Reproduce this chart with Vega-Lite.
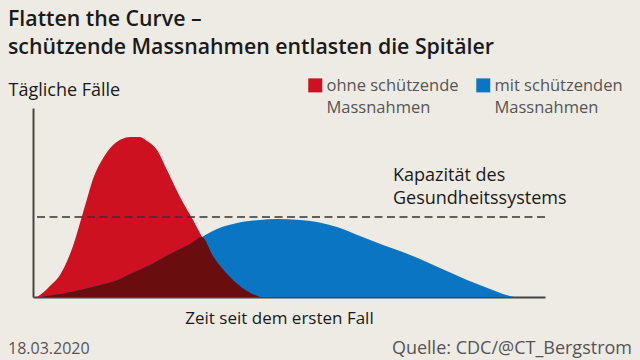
{
  "$schema": "https://vega.github.io/schema/vega-lite/v6.json",
  "width": 512,
  "height": 189,
  "autosize": "none",
  "padding": {"left": 33, "top": 108, "right": 95, "bottom": 63},
  "background": "#eeebe5",
  "config": {"view": {"stroke": null}, "font": "Open Sans"},
  "title": {
    "text": ["Flatten the Curve –", "schützende Massnahmen entlasten die Spitäler"],
    "anchor": "start",
    "frame": "group",
    "dx": -25,
    "dy": -2,
    "fontSize": 21.3,
    "fontWeight": 600,
    "color": "#1a1a1a",
    "lineHeight": 28,
    "baseline": "alphabetic",
    "offset": 0
  },
  "datasets": {
    "curves": [
      {"t": 4, "v": 0, "s": "ohne schützende Massnahmen"},
      {"t": 12, "v": 6, "s": "ohne schützende Massnahmen"},
      {"t": 17, "v": 11, "s": "ohne schützende Massnahmen"},
      {"t": 27, "v": 22, "s": "ohne schützende Massnahmen"},
      {"t": 35, "v": 38, "s": "ohne schützende Massnahmen"},
      {"t": 40, "v": 51, "s": "ohne schützende Massnahmen"},
      {"t": 47, "v": 74, "s": "ohne schützende Massnahmen"},
      {"t": 54, "v": 98, "s": "ohne schützende Massnahmen"},
      {"t": 60, "v": 118, "s": "ohne schützende Massnahmen"},
      {"t": 69, "v": 137, "s": "ohne schützende Massnahmen"},
      {"t": 80, "v": 152, "s": "ohne schützende Massnahmen"},
      {"t": 89, "v": 158, "s": "ohne schützende Massnahmen"},
      {"t": 97, "v": 160, "s": "ohne schützende Massnahmen"},
      {"t": 107, "v": 160, "s": "ohne schützende Massnahmen"},
      {"t": 114, "v": 156, "s": "ohne schützende Massnahmen"},
      {"t": 124, "v": 147, "s": "ohne schützende Massnahmen"},
      {"t": 134, "v": 127, "s": "ohne schützende Massnahmen"},
      {"t": 147, "v": 100, "s": "ohne schützende Massnahmen"},
      {"t": 160, "v": 77, "s": "ohne schützende Massnahmen"},
      {"t": 169, "v": 60, "s": "ohne schützende Massnahmen"},
      {"t": 180, "v": 41, "s": "ohne schützende Massnahmen"},
      {"t": 197, "v": 20, "s": "ohne schützende Massnahmen"},
      {"t": 214, "v": 6, "s": "ohne schützende Massnahmen"},
      {"t": 227, "v": 0, "s": "ohne schützende Massnahmen"},
      {"t": 7, "v": 0, "s": "mit schützenden Massnahmen"},
      {"t": 27, "v": 3, "s": "mit schützenden Massnahmen"},
      {"t": 47, "v": 7, "s": "mit schützenden Massnahmen"},
      {"t": 67, "v": 12, "s": "mit schützenden Massnahmen"},
      {"t": 87, "v": 18, "s": "mit schützenden Massnahmen"},
      {"t": 97, "v": 23, "s": "mit schützenden Massnahmen"},
      {"t": 117, "v": 32, "s": "mit schützenden Massnahmen"},
      {"t": 137, "v": 43, "s": "mit schützenden Massnahmen"},
      {"t": 157, "v": 53, "s": "mit schützenden Massnahmen"},
      {"t": 169, "v": 60, "s": "mit schützenden Massnahmen"},
      {"t": 184, "v": 68, "s": "mit schützenden Massnahmen"},
      {"t": 204, "v": 74, "s": "mit schützenden Massnahmen"},
      {"t": 227, "v": 77, "s": "mit schützenden Massnahmen"},
      {"t": 244, "v": 78, "s": "mit schützenden Massnahmen"},
      {"t": 267, "v": 77, "s": "mit schützenden Massnahmen"},
      {"t": 284, "v": 75, "s": "mit schützenden Massnahmen"},
      {"t": 304, "v": 70, "s": "mit schützenden Massnahmen"},
      {"t": 327, "v": 61, "s": "mit schützenden Massnahmen"},
      {"t": 350, "v": 52, "s": "mit schützenden Massnahmen"},
      {"t": 367, "v": 46, "s": "mit schützenden Massnahmen"},
      {"t": 387, "v": 38, "s": "mit schützenden Massnahmen"},
      {"t": 407, "v": 29, "s": "mit schützenden Massnahmen"},
      {"t": 434, "v": 17, "s": "mit schützenden Massnahmen"},
      {"t": 457, "v": 8, "s": "mit schützenden Massnahmen"},
      {"t": 470, "v": 3, "s": "mit schützenden Massnahmen"},
      {"t": 481, "v": 0, "s": "mit schützenden Massnahmen"},
      {"t": 7, "v": 0, "s": "Überschneidung"},
      {"t": 27, "v": 3, "s": "Überschneidung"},
      {"t": 47, "v": 7, "s": "Überschneidung"},
      {"t": 67, "v": 12, "s": "Überschneidung"},
      {"t": 87, "v": 18, "s": "Überschneidung"},
      {"t": 97, "v": 23, "s": "Überschneidung"},
      {"t": 117, "v": 32, "s": "Überschneidung"},
      {"t": 137, "v": 43, "s": "Überschneidung"},
      {"t": 157, "v": 53, "s": "Überschneidung"},
      {"t": 169, "v": 60, "s": "Überschneidung"},
      {"t": 180, "v": 41, "s": "Überschneidung"},
      {"t": 197, "v": 20, "s": "Überschneidung"},
      {"t": 214, "v": 6, "s": "Überschneidung"},
      {"t": 227, "v": 0, "s": "Überschneidung"}
    ]
  },
  "layer": [
    {
      "data": {"name": "curves"},
      "transform": [{"filter": "datum.s == 'ohne schützende Massnahmen'"}],
      "mark": {"type": "area", "interpolate": "monotone"},
      "encoding": {
        "x": {"field": "t", "type": "quantitative", "scale": {"domain": [0, 512], "nice": false},
          "axis": {"title": "Zeit seit dem ersten Fall", "labels": false, "ticks": false, "grid": false, "domainColor": "#444", "domainWidth": 2,
            "titleFontSize": 17, "titleFontWeight": "normal", "titleColor": "#1a1a1a", "titleX": 246, "titleY": 26, "titleAlign": "center", "titleBaseline": "alphabetic"}},
        "y": {"field": "v", "type": "quantitative", "stack": null, "scale": {"domain": [0, 189], "nice": false},
          "axis": {"title": "Tägliche Fälle", "labels": false, "ticks": false, "grid": false, "domainColor": "#444", "domainWidth": 2,
            "titleFontSize": 18, "titleFontWeight": "normal", "titleColor": "#1a1a1a", "titleAngle": 0, "titleX": -25, "titleY": -13, "titleAlign": "left", "titleBaseline": "alphabetic"}},
        "color": {"field": "s", "type": "nominal",
          "scale": {"domain": ["ohne schützende Massnahmen", "mit schützenden Massnahmen", "Überschneidung"], "range": ["#cd1120", "#0a76c3", "#6a0d0e"]},
          "legend": {"title": null, "values": ["ohne schützende Massnahmen", "mit schützenden Massnahmen"], "orient": "none", "legendX": 274, "legendY": -31, "direction": "horizontal", "columns": 2, "padding": 0,
            "symbolType": "square", "symbolSize": 196, "symbolOpacity": 1, "symbolStrokeWidth": 0, "labelFontSize": 16.5, "labelColor": "#555", "labelLimit": 300, "labelOffset": 3, "columnPadding": 16, "labelBaseline": "top",
            "labelExpr": "datum.label == 'ohne schützende Massnahmen' ? ['ohne schützende', 'Massnahmen'] : ['mit schützenden', 'Massnahmen']",
            "encode": {"labels": {"update": {"dy": {"value": -7}, "lineHeight": {"value": 22}}}}}}
      }
    },
    {
      "data": {"name": "curves"},
      "transform": [{"filter": "datum.s == 'mit schützenden Massnahmen'"}],
      "mark": {"type": "area", "interpolate": "monotone"},
      "encoding": {
        "x": {"field": "t", "type": "quantitative"},
        "y": {"field": "v", "type": "quantitative", "stack": null},
        "color": {"field": "s", "type": "nominal"}
      }
    },
    {
      "data": {"name": "curves"},
      "transform": [{"filter": "datum.s == 'Überschneidung'"}],
      "mark": {"type": "area", "interpolate": "monotone"},
      "encoding": {
        "x": {"field": "t", "type": "quantitative"},
        "y": {"field": "v", "type": "quantitative", "stack": null},
        "color": {"field": "s", "type": "nominal"}
      }
    },
    {
      "data": {"values": [{}]},
      "mark": {"type": "rule", "strokeDash": [8, 4.5], "color": "#333", "strokeWidth": 1.3},
      "encoding": {"y": {"datum": 80}}
    },
    {
      "data": {"values": [{}]},
      "mark": {"type": "text", "align": "left", "baseline": "alphabetic", "fontSize": 18, "color": "#1a1a1a", "lineHeight": 23},
      "encoding": {"x": {"datum": 360}, "y": {"datum": 116}, "text": {"value": ["Kapazität des", "Gesundheitssystems"]}}
    },
    {
      "data": {"values": [{}]},
      "mark": {"type": "text", "align": "left", "baseline": "alphabetic", "fontSize": 16, "color": "#555"},
      "encoding": {"x": {"datum": -25}, "y": {"datum": -57}, "text": {"value": "18.03.2020"}}
    },
    {
      "data": {"values": [{}]},
      "mark": {"type": "text", "align": "right", "baseline": "alphabetic", "fontSize": 18, "color": "#555"},
      "encoding": {"x": {"datum": 599}, "y": {"datum": -57}, "text": {"value": "Quelle: CDC/@CT_Bergstrom"}}
    }
  ]
}
